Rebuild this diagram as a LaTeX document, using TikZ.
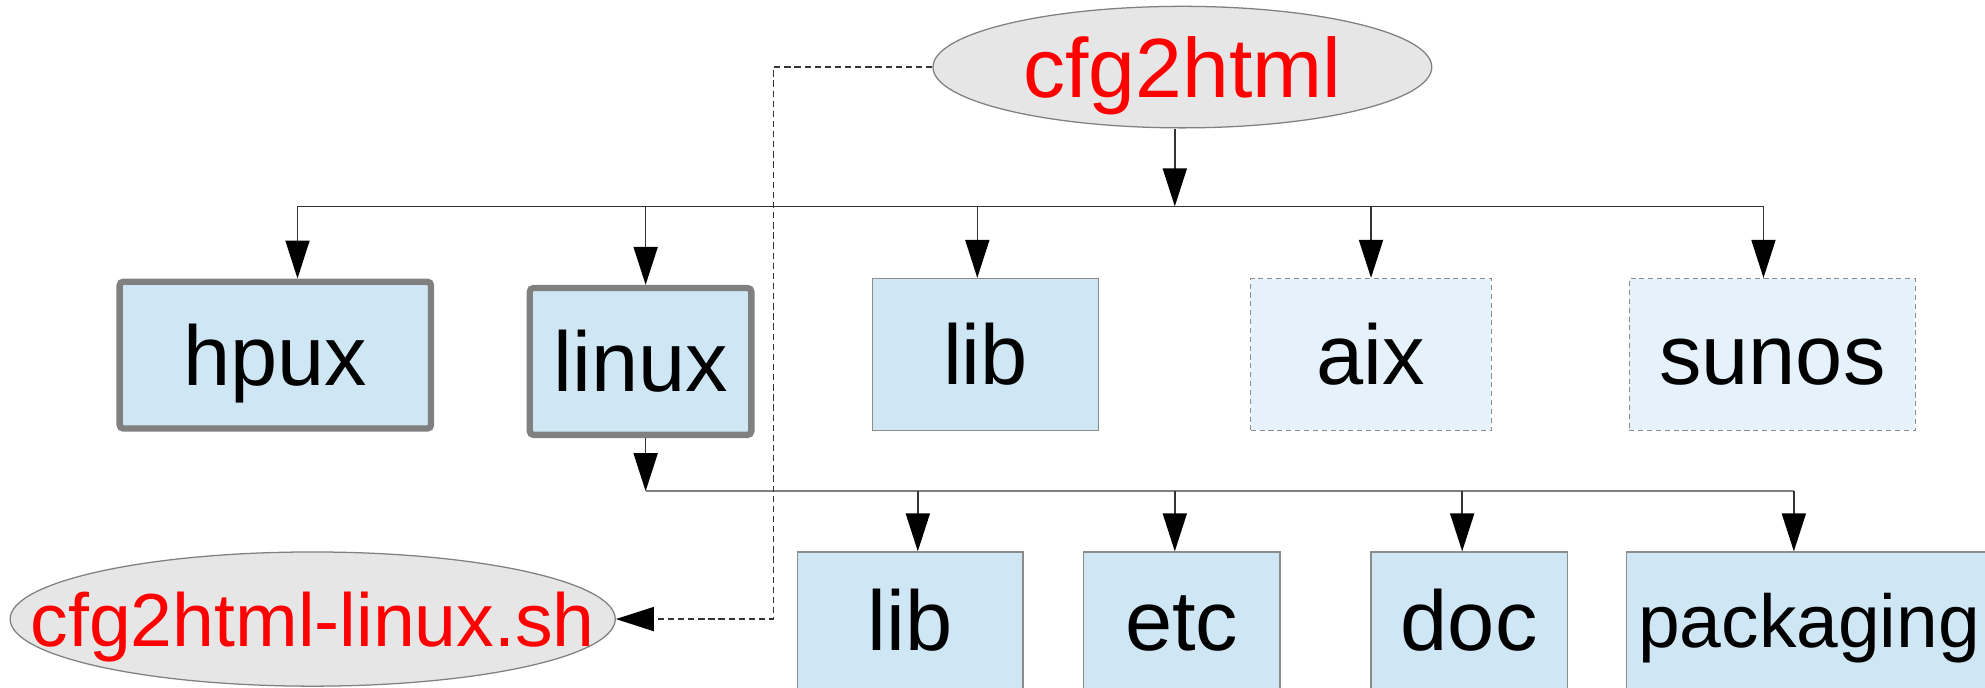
\documentclass[tikz,border=0pt]{standalone}
\usepackage{fontspec}
\setmainfont{Liberation Sans}
\usetikzlibrary{arrows.meta,shapes.geometric}
\definecolor{boxblue}{HTML}{CFE6F4}
\definecolor{boxlight}{HTML}{E5F2FB}
\definecolor{ellgray}{HTML}{E6E6E6}
\definecolor{bordgray}{HTML}{808080}
\definecolor{thingray}{HTML}{8C8C8C}
\begin{document}
\begin{tikzpicture}[x=0.5pt,y=-0.5pt,
  arr/.style={draw=black!80,line width=0.6pt,-{Triangle[length=15pt,width=9.5pt,color=black]}},
  conn/.style={draw=black!80,line width=0.6pt},
  txt/.style={font=\fontsize{33.5}{40}\selectfont,text height=24pt,text depth=0pt,inner sep=0pt},
  thickbox/.style={txt,rectangle,draw=bordgray,line width=2.5pt,rounded corners=1.5pt,fill=boxblue},
  plainbox/.style={txt,rectangle,draw=thingray,line width=0.5pt,fill=boxblue},
  dashbox/.style={txt,rectangle,draw=thingray,line width=0.5pt,dash pattern=on 2pt off 1.5pt,fill=boxlight},
  ellnode/.style={ellipse,draw=bordgray,line width=0.5pt,fill=ellgray,text=red,inner ysep=0pt}]
\clip (0,0) rectangle (1568,543);
\fill[white] (0,0) rectangle (1568,543);
% top ellipse
\node[ellnode,font=\fontsize{33.2}{40}\selectfont,text height=24pt,text depth=0pt,minimum width=197pt,minimum height=48pt] (cfg) at (934,53) {cfg2html};
% second ellipse
\node[ellnode,font=\fontsize{29.7}{35}\selectfont,text height=21.4pt,text depth=0pt,inner xsep=-30pt,minimum width=239pt,minimum height=53pt] (sh) at (247,489) {cfg2html-linux.sh};
% first level boxes
\node[thickbox,minimum width=123pt,minimum height=58pt] (hpux) at (217.5,280.5) {hpux};
\node[thickbox,minimum width=87.5pt,minimum height=58pt] (linux) at (506,285.5) {linux};
\node[plainbox,minimum width=89.5pt,minimum height=60pt] (lib) at (778.5,280) {lib};
\node[dashbox,minimum width=95pt,minimum height=60pt] (aix) at (1083,280) {aix};
\node[dashbox,minimum width=113pt,minimum height=60pt] (sunos) at (1400,280) {sunos};
% second level boxes
\node[plainbox,minimum width=89pt,minimum height=54pt] (lib2) at (719,490) {lib};
\node[plainbox,minimum width=77.5pt,minimum height=54pt] (etc) at (933.5,490) {etc};
\node[plainbox,minimum width=77.5pt,minimum height=54pt] (doc) at (1160.5,490) {doc};
\node[plainbox,minimum width=144pt,minimum height=54pt,font=\fontsize{29.6}{35}\selectfont,text height=21.4pt] (pack) at (1429,490) {packaging};
% top bar
\coordinate (j1) at (928,163);
\coordinate (bA) at (235,163);
\coordinate (bB) at (510,163);
\coordinate (bC) at (772,163);
\coordinate (bD) at (1083,163);
\coordinate (bE) at (1393,163);
\draw[arr] (cfg.south -| j1) -- (j1);
\draw[conn] (bA) -- (bE);
\draw[arr] (bA) -- (bA |- hpux.north);
\draw[arr] (bB) -- (bB |- linux.north);
\draw[arr] (bC) -- (bC |- lib.north);
\draw[arr] (bD) -- (bD |- aix.north);
\draw[arr] (bE) -- (bE |- sunos.north);
% second bar
\coordinate (j2) at (510,388);
\coordinate (cA) at (725,388);
\coordinate (cB) at (928,388);
\coordinate (cC) at (1155,388);
\coordinate (cD) at (1417,388);
\draw[arr] (linux.south -| j2) -- (j2);
\draw[draw=bordgray,line width=1pt] (j2) -- (cD);
\draw[arr] (cA) -- (cA |- lib2.north);
\draw[arr] (cB) -- (cB |- etc.north);
\draw[arr] (cC) -- (cC |- doc.north);
\draw[arr] (cD) -- (cD |- pack.north);
% dashed link
\coordinate (d1) at (611,53);
\coordinate (d2) at (611,489);
\draw[arr,dash pattern=on 2.5pt off 1.5pt] (cfg.west) -- (d1) -- (d2) -- (sh.east);
\end{tikzpicture}
\end{document}
